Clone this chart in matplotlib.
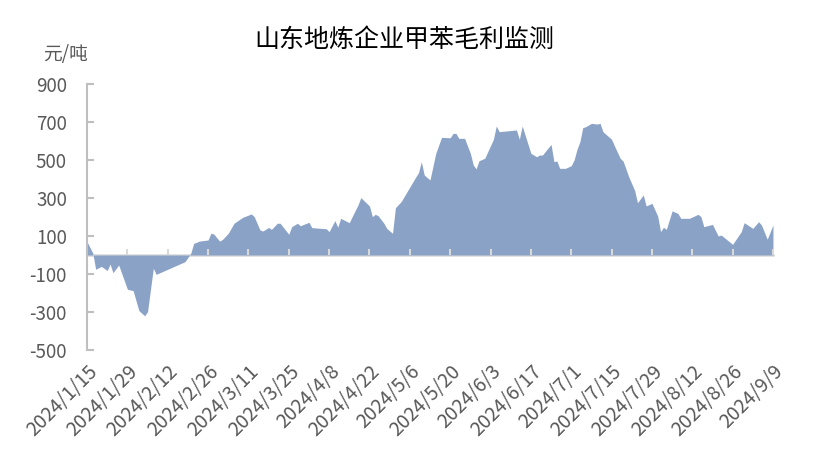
import pandas as pd
import matplotlib.pyplot as plt
import matplotlib.dates as mdates

plt.rcParams['font.family'] = ['Noto Sans CJK SC', 'DejaVu Sans']
plt.rcParams['axes.unicode_minus'] = False

# 日期与毛利 (元/吨)
dates = [
    "2024-01-15", "2024-01-17", "2024-01-18", "2024-01-20", "2024-01-22", "2024-01-23",
    "2024-01-24", "2024-01-26", "2024-01-29", "2024-01-31", "2024-02-02", "2024-02-04",
    "2024-02-05", "2024-02-07", "2024-02-08", "2024-02-18", "2024-02-20", "2024-02-21",
    "2024-02-23", "2024-02-26", "2024-02-27", "2024-02-28", "2024-03-01", "2024-03-02",
    "2024-03-04", "2024-03-06", "2024-03-09", "2024-03-12", "2024-03-13", "2024-03-15",
    "2024-03-16", "2024-03-18", "2024-03-19", "2024-03-21", "2024-03-22", "2024-03-25",
    "2024-03-26", "2024-03-28", "2024-03-29", "2024-04-01", "2024-04-02", "2024-04-07",
    "2024-04-08", "2024-04-10", "2024-04-11", "2024-04-12", "2024-04-15", "2024-04-16",
    "2024-04-18", "2024-04-19", "2024-04-22", "2024-04-23", "2024-04-24", "2024-04-25",
    "2024-04-27", "2024-04-28", "2024-04-30", "2024-05-01", "2024-05-03", "2024-05-08",
    "2024-05-09", "2024-05-10", "2024-05-11", "2024-05-13", "2024-05-15", "2024-05-17",
    "2024-05-20", "2024-05-21", "2024-05-22", "2024-05-23", "2024-05-25", "2024-05-27",
    "2024-05-28", "2024-05-29", "2024-05-30", "2024-06-01", "2024-06-04", "2024-06-05",
    "2024-06-06", "2024-06-12", "2024-06-13", "2024-06-14", "2024-06-17", "2024-06-19",
    "2024-06-20", "2024-06-21", "2024-06-24", "2024-06-25", "2024-06-26", "2024-06-27",
    "2024-06-29", "2024-07-01", "2024-07-02", "2024-07-03", "2024-07-04", "2024-07-05",
    "2024-07-06", "2024-07-08", "2024-07-10", "2024-07-11", "2024-07-12", "2024-07-15",
    "2024-07-16", "2024-07-18", "2024-07-19", "2024-07-21", "2024-07-23", "2024-07-24",
    "2024-07-26", "2024-07-27", "2024-07-29", "2024-07-31", "2024-08-01", "2024-08-02",
    "2024-08-03", "2024-08-05", "2024-08-07", "2024-08-08", "2024-08-11", "2024-08-14",
    "2024-08-15", "2024-08-16", "2024-08-19", "2024-08-21", "2024-08-22", "2024-08-26",
    "2024-08-29", "2024-08-30", "2024-09-02", "2024-09-04", "2024-09-05", "2024-09-07",
    "2024-09-09",
]
profit = [
    70, 10, -75, -60, -82, -48,
    -93, -53, -180, -188, -293, -320,
    -298, -70, -102, -35, 9, 61,
    73, 79, 115, 110, 73, 82,
    114, 167, 198, 216, 202, 132,
    126, 145, 135, 167, 167, 109,
    149, 167, 154, 172, 144, 138,
    123, 181, 146, 193, 170, 202,
    263, 302, 258, 202, 214, 207,
    167, 140, 114, 249, 281, 409,
    433, 491, 421, 395, 535, 619,
    617, 640, 640, 614, 614, 535,
    474, 453, 496, 509, 609, 679,
    649, 658, 609, 679, 535, 517,
    526, 526, 582, 491, 495, 456,
    456, 470, 500, 556, 596, 670,
    675, 693, 689, 693, 649, 609,
    574, 509, 494, 410, 340, 275,
    316, 258, 272, 205, 123, 146,
    135, 232, 219, 193, 193, 214,
    202, 149, 161, 100, 105, 56,
    123, 170, 140, 175, 158, 83,
    158,
]
y_ticks = [-500, -300, -100, 100, 300, 500, 700, 900]

x = pd.to_datetime(dates)
x_start = pd.Timestamp("2024-01-15")
x_end = pd.Timestamp("2024-09-09")
tick_dates = pd.date_range(x_start, x_end, freq="14D")

fig = plt.figure(figsize=(8.14, 4.61), dpi=100)
ax = fig.add_axes([0.1069, 0.2408, 0.8427, 0.577])

ax.fill_between(x, profit, 0, color="#8aa2c6", linewidth=0)

ax.set_xlim(x_start, x_end)
ax.set_ylim(-500, 900)
ax.set_yticks(y_ticks)

# zero line carries the x ticks, labels stay at the bottom
ax.spines["top"].set_position(("data", 0))
ax.spines["top"].set_color("#d9d9d9")
ax.spines["top"].set_linewidth(1.8)
ax.spines["top"].set_zorder(0.5)
ax.spines["right"].set_visible(False)
ax.spines["bottom"].set_visible(False)
ax.spines["left"].set_color("#bfbfbf")
ax.spines["left"].set_linewidth(1.5)

ax.set_xticks(tick_dates)
ax.xaxis.set_major_formatter(mdates.DateFormatter("%Y/%-m/%-d"))
ax.tick_params(axis="x", top=True, bottom=False, labeltop=False, labelbottom=True,
               direction="out", length=4, width=1.5, color="#d9d9d9",
               labelsize=14, labelcolor="#595959", pad=4)
for lab in ax.get_xticklabels():
    lab.set_rotation(45)
    lab.set_ha("right")
    lab.set_va("top")
    lab.set_rotation_mode("anchor")

ax.tick_params(axis="y", direction="in", length=5, width=1.5, color="#bfbfbf",
               labelsize=13.5, labelcolor="#595959", pad=14.5)

fig.text(0.497, 0.913, "山东地炼企业甲苯毛利监测", ha="center", va="center",
         fontsize=18, color="#000000")
fig.text(0.0525, 0.881, "元/吨", ha="left", va="center", fontsize=13.5, color="#595959")

fig.savefig("out.png", dpi=100)
plt.close(fig)
